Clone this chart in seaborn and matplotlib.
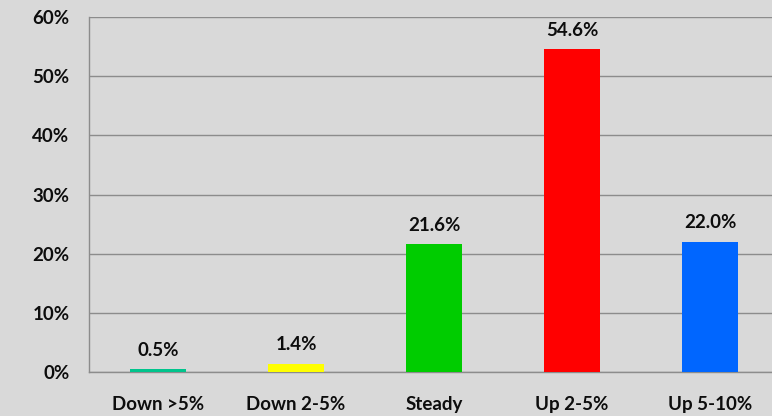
import matplotlib
matplotlib.use("Agg")
import matplotlib.pyplot as plt
from matplotlib.ticker import FixedLocator, PercentFormatter
import seaborn as sns
import pandas as pd

categories = ["Down >5%", "Down 2-5%", "Steady", "Up 2-5%", "Up 5-10%"]
shares = [0.5, 1.4, 21.6, 54.6, 22.0]
bar_colors = ["#00C48C", "#FFFF00", "#00CC00", "#FF0000", "#0066FF"]
y_ticks = [0, 10, 20, 30, 40, 50, 60]

df = pd.DataFrame({"category": categories, "share": shares})

sns.set_theme(style="white")
plt.rcParams["font.family"] = ["Lato", "DejaVu Sans"]
plt.rcParams["font.weight"] = "bold"

BG = "#D9D9D9"
GRID = "#8C8C8C"
TEXT = "#0D0D0D"
FS = 13.5

W, H = 772, 416
fig = plt.figure(figsize=(W / 100, H / 100), dpi=100, facecolor=BG)
ax = fig.add_axes([89 / W, (H - 372) / H, 690 / W, (372 - 17) / H])
ax.set_facecolor(BG)

sns.barplot(data=df, x="category", y="share", hue="category",
            palette=bar_colors, width=0.406, legend=False, ax=ax,
            saturation=1, linewidth=0, edgecolor="none", zorder=3)

ax.set_xlim(-0.5, len(categories) - 0.5)
ax.set_ylim(0, 60)
ax.yaxis.set_major_locator(FixedLocator(y_ticks))
ax.yaxis.set_major_formatter(PercentFormatter(decimals=0))
ax.grid(axis="y", color=GRID, linewidth=1.0, zorder=0)
ax.set_axisbelow(True)

for side in ("top", "right"):
    ax.spines[side].set_visible(False)
for side in ("left", "bottom"):
    ax.spines[side].set_color(GRID)
    ax.spines[side].set_linewidth(1.0)

ax.set_xlabel("")
ax.set_ylabel("")

# category labels centred, with small tick marks at category boundaries
ax.tick_params(axis="x", which="major", length=0, pad=17, labelsize=FS,
               labelcolor=TEXT)
ax.xaxis.set_minor_locator(FixedLocator([i - 0.5 for i in range(len(categories) + 1)]))
ax.tick_params(axis="x", which="minor", length=6, width=1, color=GRID,
               direction="out")
ax.tick_params(axis="y", length=6, width=1, color=GRID, direction="out",
               pad=8, labelsize=FS, labelcolor=TEXT)
for lab in ax.get_xticklabels() + ax.get_yticklabels():
    lab.set_fontweight("bold")

for i, v in enumerate(shares):
    ax.annotate(f"{v:.1f}%", (i, v), xytext=(0, 7.5), textcoords="offset points",
                ha="center", va="bottom", fontsize=FS, fontweight="bold",
                color=TEXT)

fig.savefig("out.png", dpi=100, facecolor=BG)
